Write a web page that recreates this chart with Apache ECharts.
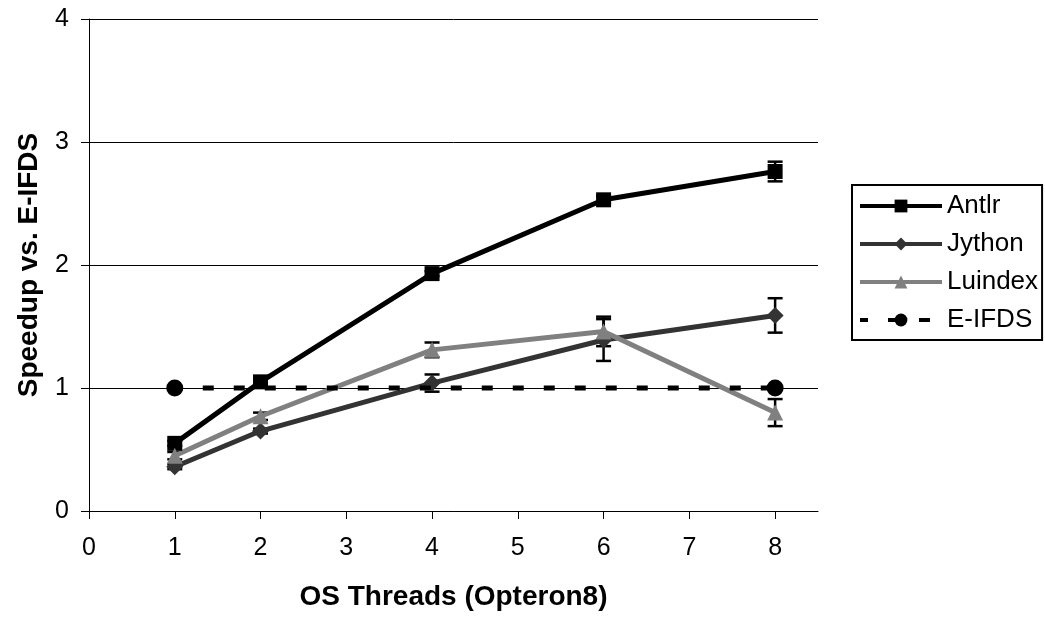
<html>
<head>
  <meta charset="utf-8">
  <title>Speedup vs. E-IFDS</title>
  <script src="https://cdn.jsdelivr.net/npm/echarts@6/dist/echarts.min.js"></script>
  <style>
    html, body { margin: 0; padding: 0; background: #fff; }
    #chart { width: 1045px; height: 620px; }
  </style>
</head>
<body>
  <div id="chart"></div>
  <script>
    // data
    var threads = [1, 2, 4, 6, 8];
    var xTicks = [0, 1, 2, 3, 4, 5, 6, 7, 8];

    var antlr = [0.55, 1.05, 1.93, 2.53, 2.76];
    var antlrErr = [0.02, 0.02, 0.02, 0.03, 0.08];

    var jython = [0.36, 0.65, 1.04, 1.39, 1.59];
    var jythonErr = [0.02, 0.02, 0.07, 0.17, 0.14];

    var luindex = [0.45, 0.77, 1.31, 1.46, 0.80];
    var luindexErr = [0.03, 0.03, 0.06, 0.12, 0.11];

    var eifdsX = [1, 8];
    var eifds = [1, 1];

    var font = 'Liberation Sans, Arial, sans-serif';

    function pairs(xs, ys) {
      return xs.map(function (x, i) { return [x, ys[i]]; });
    }

    // error bars as a custom series
    function errBars(name, vals, errs) {
      var data = threads.map(function (t, i) {
        return [t, vals[i] - errs[i], vals[i] + errs[i]];
      });
      return {
        type: 'custom',
        name: name,
        data: data,
        silent: true,
        z: 3,
        encode: { x: 0, y: [1, 2] },
        renderItem: function (params, api) {
          var lo = api.coord([api.value(0), api.value(1)]);
          var hi = api.coord([api.value(0), api.value(2)]);
          var w = 7.5;
          var st = { stroke: '#000', lineWidth: 2.5 };
          return {
            type: 'group',
            children: [
              { type: 'line', shape: { x1: lo[0], y1: lo[1], x2: hi[0], y2: hi[1] }, style: st },
              { type: 'line', shape: { x1: lo[0] - w, y1: lo[1], x2: lo[0] + w, y2: lo[1] }, style: st },
              { type: 'line', shape: { x1: hi[0] - w, y1: hi[1], x2: hi[0] + w, y2: hi[1] }, style: st }
            ]
          };
        }
      };
    }

    function lineSeries(name, ys, color, symbol, size) {
      return {
        type: 'line',
        name: name,
        data: pairs(threads, ys),
        symbol: symbol,
        symbolSize: size,
        z: 4,
        lineStyle: { color: color, width: 5 },
        itemStyle: { color: color }
      };
    }

    var chart = echarts.init(document.getElementById('chart'));
    chart.setOption({
      animation: false,
      backgroundColor: '#fff',
      grid: { left: 89, right: 227, top: 19, bottom: 109 },
      xAxis: {
        type: 'value',
        min: 0,
        max: 8.5,
        interval: 1,
        name: 'OS Threads (Opteron8)',
        nameLocation: 'middle',
        nameGap: 72,
        nameTextStyle: { fontFamily: font, fontSize: 28, fontWeight: 'bold', color: '#000' },
        axisLine: { lineStyle: { color: '#000', width: 1 } },
        axisTick: { customValues: xTicks, length: 8, inside: false, lineStyle: { color: '#000' } },
        axisLabel: { customValues: xTicks, fontFamily: font, fontSize: 25, color: '#000', margin: 25 },
        splitLine: { show: false }
      },
      yAxis: {
        type: 'value',
        min: 0,
        max: 4,
        interval: 1,
        name: 'Speedup vs. E-IFDS',
        nameLocation: 'middle',
        nameGap: 46,
        nameTextStyle: { fontFamily: font, fontSize: 28, fontWeight: 'bold', color: '#000' },
        axisLine: { show: true, lineStyle: { color: '#000', width: 1 } },
        axisTick: { show: true, length: 8, lineStyle: { color: '#000' } },
        axisLabel: { fontFamily: font, fontSize: 25, color: '#000', margin: 20 },
        splitLine: { show: true, lineStyle: { color: '#000', width: 1 } }
      },
      legend: {
        data: ['Antlr', 'Jython', 'Luindex', 'E-IFDS'],
        orient: 'vertical',
        left: 852,
        top: 185,
        padding: [8, 4, 7, 6],
        itemGap: 12,
        itemWidth: 82,
        itemHeight: 16,
        borderColor: '#000',
        borderWidth: 2,
        borderRadius: 0,
        lineStyle: { width: 4 },
        textStyle: { fontFamily: font, fontSize: 26, color: '#000' }
      },
      series: [
        lineSeries('Antlr', antlr, '#000000', 'rect', 15),
        lineSeries('Jython', jython, '#333333', 'diamond', 17),
        lineSeries('Luindex', luindex, '#808080', 'triangle', 16),
        {
          type: 'line',
          name: 'E-IFDS',
          data: pairs(eifdsX, eifds),
          symbol: 'circle',
          symbolSize: 17,
          z: 5,
          lineStyle: { color: '#000', width: 5, type: [11, 20], dashOffset: 3 },
          itemStyle: { color: '#000' }
        },
        errBars('Antlr err', antlr, antlrErr),
        errBars('Jython err', jython, jythonErr),
        errBars('Luindex err', luindex, luindexErr)
      ]
    });
  </script>
</body>
</html>
